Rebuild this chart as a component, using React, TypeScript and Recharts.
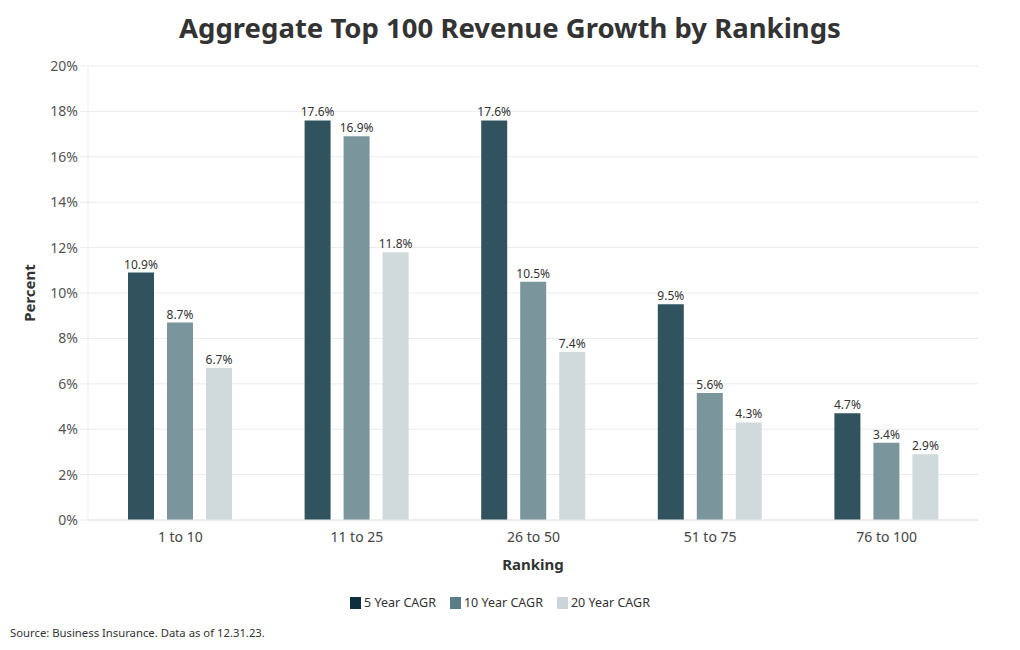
import { BarChart, Bar, XAxis, YAxis, CartesianGrid, LabelList } from "recharts";

const rankings = ["1 to 10", "11 to 25", "26 to 50", "51 to 75", "76 to 100"];
const cagr5 = [10.9, 17.6, 17.6, 9.5, 4.7];
const cagr10 = [8.7, 16.9, 10.5, 5.6, 3.4];
const cagr20 = [6.7, 11.8, 7.4, 4.3, 2.9];
const yTicks = [0, 2, 4, 6, 8, 10, 12, 14, 16, 18, 20];

const series = [
  { key: "c5", name: "5 Year CAGR", fill: "#30535f", legend: "#0e2f3c" },
  { key: "c10", name: "10 Year CAGR", fill: "#7a959b", legend: "#5b7d87" },
  { key: "c20", name: "20 Year CAGR", fill: "#d0dadd", legend: "#c9d5d8" },
];

const data = rankings.map((r, i) => ({
  ranking: r,
  c5: cagr5[i],
  c10: cagr10[i],
  c20: cagr20[i],
}));

const FONT = "'Noto Sans', 'Open Sans', sans-serif";

export default function App() {
  return (
    <div
      style={{
        position: "absolute",
        left: 0,
        top: 0,
        width: 1020,
        height: 650,
        background: "#fff",
        fontFamily: FONT,
      }}
    >
      <div
        style={{
          position: "absolute",
          top: 9,
          left: 0,
          width: 1020,
          textAlign: "center",
          fontSize: 27.5,
          fontWeight: 700,
          color: "#333",
        }}
      >
        Aggregate Top 100 Revenue Growth by Rankings
      </div>
      <BarChart
        width={1020}
        height={650}
        data={data}
        margin={{ top: 66, right: 42, bottom: 70, left: 0 }}
        barGap={13}
        barCategoryGap="21%"
      >
        <CartesianGrid stroke="#ebebeb" vertical={false} />
        <XAxis
          dataKey="ranking"
          height={60}
          padding={{ left: 4, right: 3 }}
          tickLine={false}
          axisLine={{ stroke: "#e6e6e6" }}
          tick={{ fill: "#444", fontSize: 14, fontFamily: FONT }}
          tickMargin={6}
          label={{
            value: "Ranking",
            position: "insideBottom",
            offset: 10,
            fill: "#333",
            fontSize: 15,
            fontWeight: 700,
            fontFamily: FONT,
          }}
        />
        <YAxis
          width={88}
          domain={[0, 20]}
          ticks={yTicks}
          tickFormatter={(v) => `${v}%`}
          tickSize={8}
          tickMargin={2}
          tickLine={{ stroke: "#ebebeb" }}
          axisLine={{ stroke: "#ebebeb" }}
          tick={{ fill: "#555", fontSize: 14, fontFamily: FONT }}
          label={{
            value: "Percent",
            angle: -90,
            position: "insideLeft",
            offset: 30,
            fill: "#333",
            fontSize: 15,
            fontWeight: 700,
            fontFamily: FONT,
            style: { textAnchor: "middle" },
          }}
        />
        {series.map((s) => (
          <Bar
            key={s.key}
            dataKey={s.key}
            name={s.name}
            fill={s.fill}
            barSize={26}
            isAnimationActive={false}
          >
            <LabelList
              dataKey={s.key}
              position="top"
              offset={4}
              formatter={(v: number) => `${v}%`}
              style={{ fill: "#333", fontSize: 12, fontFamily: FONT }}
            />
          </Bar>
        ))}
      </BarChart>
      <div
        style={{
          position: "absolute",
          top: 594,
          left: 0,
          width: 1000,
          display: "flex",
          justifyContent: "center",
          gap: 14,
          fontSize: 12.5,
          color: "#333",
        }}
      >
        {series.map((s) => (
          <div key={s.key} style={{ display: "flex", alignItems: "center" }}>
            <span
              style={{
                display: "inline-block",
                width: 11,
                height: 12,
                background: s.legend,
                marginRight: 3,
              }}
            />
            {s.name}
          </div>
        ))}
      </div>
      <div
        style={{
          position: "absolute",
          top: 625,
          left: 10,
          fontSize: 11.3,
          color: "#333",
        }}
      >
        Source: Business Insurance. Data as of 12.31.23.
      </div>
    </div>
  );
}
